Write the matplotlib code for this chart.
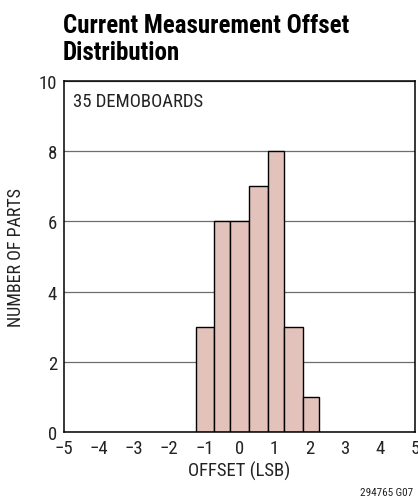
import matplotlib
matplotlib.use("Agg")
import matplotlib.pyplot as plt
from matplotlib import font_manager

# 좁은 폰트 찾기 (없으면 Liberation Sans)
names = sorted(set(f.name for f in font_manager.fontManager.ttflist))
prefer = ['Liberation Sans Narrow', 'Roboto Condensed', 'Open Sans Condensed',
          'Noto Sans Condensed', 'DejaVu Sans Condensed']
narrow = None
for p in prefer:
    if p in names:
        narrow = p
        break
if narrow is None:
    for n in names:
        if ('Narrow' in n or 'Condensed' in n) and not any(
                w in n for w in ['Light', 'Thin', 'Extra', 'Semi', 'Medium', 'Black']):
            narrow = n
            break
if narrow is None:
    narrow = 'Liberation Sans'
plt.rcParams['font.family'] = [narrow, 'DejaVu Sans']

bin_edges = [-1.25, -0.72, -0.27, 0.26, 0.80, 1.26, 1.80, 2.27]
counts = [3, 6, 6, 7, 8, 3, 1]
x_ticks = [-5, -4, -3, -2, -1, 0, 1, 2, 3, 4, 5]
x_labels = ['\u22125', '\u22124', '\u22123', '\u22122', '\u22121', '0', '1', '2', '3', '4', '5']
y_ticks = [0, 2, 4, 6, 8, 10]

fig = plt.figure(figsize=(4.18, 5.02), dpi=100)
ax = fig.add_axes([0.153, 0.1375, 0.840, 0.699])

lefts = bin_edges[:-1]
widths = [b - a for a, b in zip(bin_edges[:-1], bin_edges[1:])]
ax.bar(lefts, counts, width=widths, align='edge', color='#e3c2bc',
       edgecolor='black', linewidth=1.0, zorder=3)

ax.set_xlim(-5, 5)
ax.set_ylim(0, 10)
ax.set_xticks(x_ticks)
ax.set_xticklabels(x_labels)
ax.set_yticks(y_ticks)
ax.tick_params(length=0, labelsize=13.5, pad=5, labelcolor='#222222')
ax.grid(axis='y', color='#6e6e6e', linewidth=0.9, zorder=0)
for s in ax.spines.values():
    s.set_linewidth(1.1)
    s.set_zorder(4)

ax.set_xlabel('OFFSET (LSB)', fontsize=13.5, labelpad=3, color='#222222')
ax.set_ylabel('NUMBER OF PARTS', fontsize=13, labelpad=10, color='#222222')
ax.text(0.025, 0.943, '35 DEMOBOARDS', transform=ax.transAxes, fontsize=13.5,
        va='center', ha='left', color='#222222')

fig.text(0.151, 0.921, 'Current Measurement Offset\nDistribution', fontsize=18,
         fontweight='bold', va='center', ha='left', linespacing=1.15)
fig.text(0.988, 0.018, '294765 G07', fontsize=8, ha='right', va='center',
         color='#222222')

fig.savefig('out.png', dpi=100)
